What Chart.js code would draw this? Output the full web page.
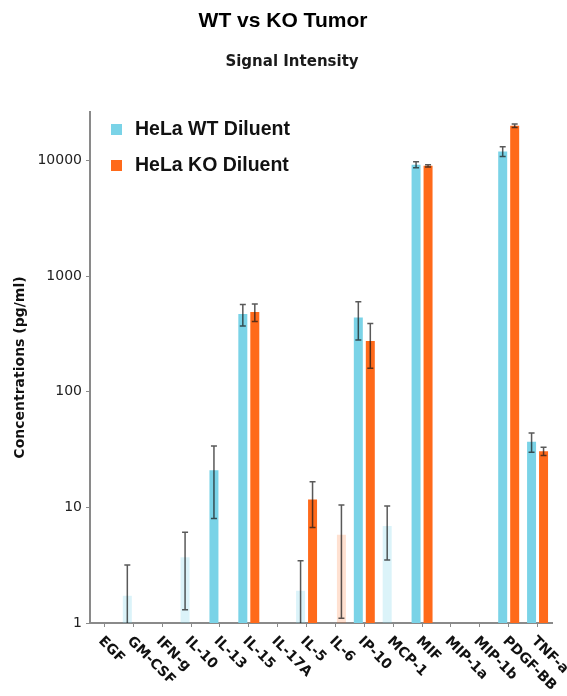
<!DOCTYPE html>
<html>
<head>
<meta charset="utf-8">
<script src="https://cdn.jsdelivr.net/npm/chart.js@4.4.1/dist/chart.umd.min.js"></script>
<style>
  body { margin: 0; background: #fff; }
  #wrap { width: 567px; height: 696px; }
</style>
</head>
<body>
<div id="wrap"><canvas id="chart-1"></canvas></div>
<script>
// data (log scale, pg/ml)
const cytokines = ["EGF", "GM-CSF", "IFN-g", "IL-10", "IL-13", "IL-15", "IL-17A", "IL-5", "IL-6", "IP-10", "MCP-1", "MIF", "MIP-1a", "MIP-1b", "PDGF-BB", "TNF-a"];
const wtValues = [null, 1.72, null, 3.7, 21, 470, null, 1.9, null, 440, 6.9, 9200, null, null, 12000, 37];
const wtErrors = [null, 1.45, null, 2.4, 13, 100, null, 1.55, null, 160, 3.4, 550, null, null, 1150, 7];
const koValues = [null, null, null, null, null, 490, null, 11.7, 5.8, 275, null, 9000, null, null, 20000, 30.6];
const koErrors = [null, null, null, null, null, 85, null, 5, 4.7, 115, null, 200, null, null, 700, 2.5];
const yTicks = [1, 10, 100, 1000, 10000];

const WT_BLUE = "rgb(122, 211, 231)";
const WT_FADED = "rgba(122, 211, 231, 0.27)";
const KO_ORANGE = "rgb(255, 106, 26)";
const KO_FADED = "rgba(255, 106, 26, 0.2)";

// values under 10 are drawn pale, like the reference
function barColor(solid, faded) {
  return (c) => {
    const v = c.raw;
    return v != null && v < 10 ? faded : solid;
  };
}

const header = {
  id: "header",
  afterDraw(chart) {
    const ctx = chart.ctx;
    ctx.save();
    ctx.fillStyle = "#000";
    ctx.textAlign = "center";
    ctx.textBaseline = "alphabetic";
    ctx.font = "bold 21px 'Liberation Sans', Arial";
    ctx.fillText("WT vs KO Tumor", 283, 27);
    ctx.fillStyle = "#1a1a1a";
    ctx.font = "bold 15px 'DejaVu Sans'";
    ctx.fillText("Signal Intensity", 292, 66);
    ctx.restore();
  }
};

const boxLegend = {
  id: "boxLegend",
  afterDraw(chart) {
    const ctx = chart.ctx;
    ctx.save();
    ctx.font = "bold 19.5px 'Liberation Sans', Arial";
    ctx.textBaseline = "middle";
    ctx.textAlign = "left";
    chart.data.datasets.forEach((ds, i) => {
      const cy = 129.5 + i * 36;
      ctx.fillStyle = ds.legendColor;
      ctx.fillRect(111, cy - 5.5, 11, 11);
      ctx.fillStyle = "#111";
      ctx.fillText(ds.label, 135, cy);
    });
    ctx.restore();
  }
};

const errorBars = {
  id: "errorBars",
  afterDatasetsDraw(chart) {
    const ctx = chart.ctx;
    const y = chart.scales.y;
    const area = chart.chartArea;
    chart.data.datasets.forEach((ds, i) => {
      const meta = chart.getDatasetMeta(i);
      meta.data.forEach((bar, j) => {
        const v = ds.data[j];
        const e = ds.errors[j];
        if (v == null || e == null) return;
        const top = y.getPixelForValue(v + e);
        const low = v - e;
        const bottom = low > y.min ? y.getPixelForValue(low) : area.bottom;
        ctx.save();
        ctx.strokeStyle = "rgba(25, 25, 25, 0.72)";
        ctx.lineWidth = 1.5;
        ctx.beginPath();
        ctx.moveTo(bar.x, top);
        ctx.lineTo(bar.x, bottom);
        ctx.moveTo(bar.x - 3, top);
        ctx.lineTo(bar.x + 3, top);
        if (low > y.min) {
          ctx.moveTo(bar.x - 3, bottom);
          ctx.lineTo(bar.x + 3, bottom);
        }
        ctx.stroke();
        ctx.restore();
      });
    });
  }
};

const slantedLabels = {
  id: "slantedLabels",
  afterDraw(chart) {
    const ctx = chart.ctx;
    const x = chart.scales.x;
    const base = chart.chartArea.bottom;
    ctx.save();
    ctx.font = "bold 14px 'DejaVu Sans'";
    ctx.fillStyle = "#111";
    ctx.textAlign = "left";
    ctx.textBaseline = "top";
    chart.data.labels.forEach((lab, i) => {
      ctx.save();
      ctx.translate(x.getPixelForValue(i) + 1, base + 11);
      ctx.rotate(Math.PI / 4);
      ctx.fillText(lab, 0, 0);
      ctx.restore();
    });
    ctx.restore();
  }
};

const ctx1 = document.getElementById("chart-1").getContext("2d");
const myChart = new Chart(ctx1, {
  type: "bar",
  data: {
    labels: cytokines,
    datasets: [
      {
        label: "HeLa WT Diluent",
        data: wtValues,
        errors: wtErrors,
        legendColor: WT_BLUE,
        backgroundColor: barColor(WT_BLUE, WT_FADED),
      },
      {
        label: "HeLa KO Diluent",
        data: koValues,
        errors: koErrors,
        legendColor: KO_ORANGE,
        backgroundColor: barColor(KO_ORANGE, KO_FADED),
      },
    ],
  },
  options: {
    responsive: true,
    maintainAspectRatio: false,
    animation: false,
    categoryPercentage: 0.83,
    barPercentage: 0.75,
    layout: { padding: { top: 112, right: 15, left: 0, bottom: 0 } },
    plugins: {
      legend: { display: false },
      tooltip: { enabled: false },
    },
    scales: {
      x: {
        afterFit: (s) => { s.height = 73; },
        grid: { drawOnChartArea: false, offset: false, tickLength: 4, color: "#8a8a8a" },
        border: { color: "#8a8a8a", width: 2 },
        ticks: { display: false },
      },
      y: {
        type: "logarithmic",
        min: 1,
        max: 26300,
        afterFit: (s) => { s.width = 90; },
        afterBuildTicks: (s) => { s.ticks = yTicks.map((v) => ({ value: v })); },
        grid: { drawOnChartArea: false, tickLength: 4, color: "#8a8a8a" },
        border: { color: "#8a8a8a", width: 2 },
        ticks: {
          padding: 4,
          color: "#222",
          font: { family: "'DejaVu Sans'", size: 14 },
          callback: (v) => String(v),
        },
        title: {
          display: true,
          text: "Concentrations (pg/ml)",
          color: "#111",
          font: { family: "'DejaVu Sans'", size: 14, weight: "bold" },
          padding: { top: 12 },
        },
      },
    },
  },
  plugins: [errorBars, slantedLabels, boxLegend, header],
});
</script>
</body>
</html>
